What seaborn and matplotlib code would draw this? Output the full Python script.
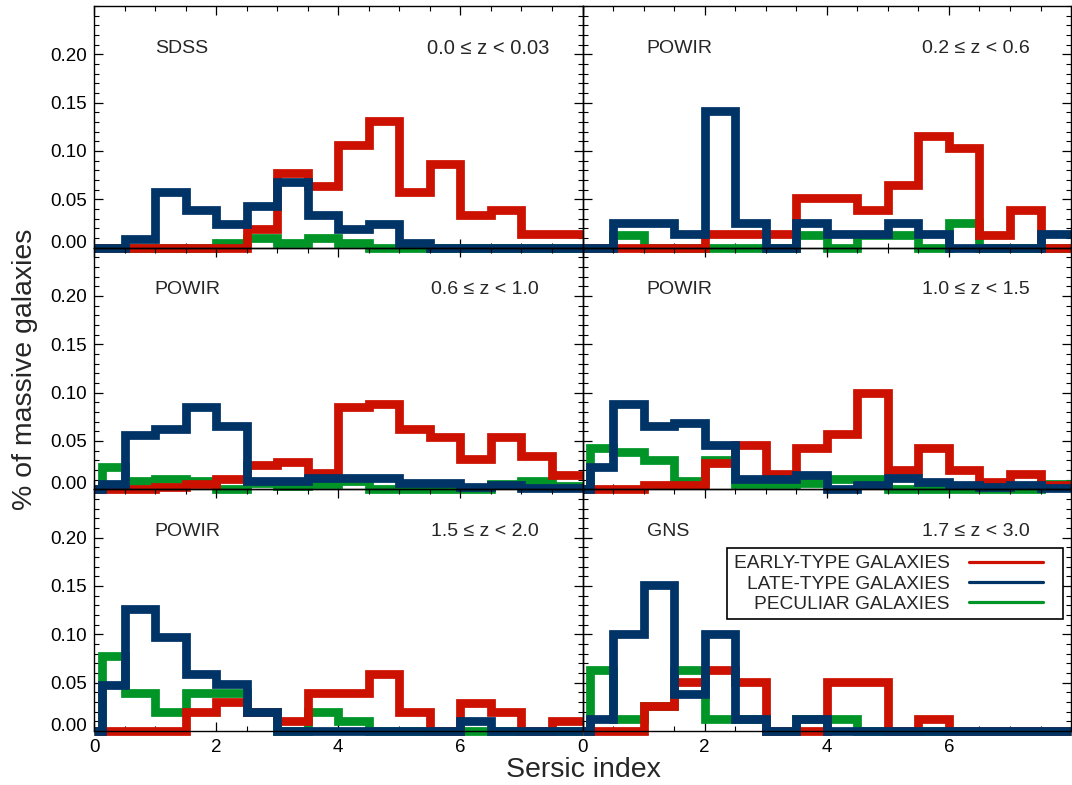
import numpy as np
import pandas as pd
import matplotlib
matplotlib.use("Agg")
import matplotlib.pyplot as plt
from matplotlib.lines import Line2D
from matplotlib.legend_handler import HandlerLine2D
from matplotlib.ticker import MultipleLocator
import seaborn as sns

# Sersic-index bin centres (bin width 0.5, n = 0 .. 8)
bin_centres = [0.25, 0.75, 1.25, 1.75, 2.25, 2.75, 3.25, 3.75,
               4.25, 4.75, 5.25, 5.75, 6.25, 6.75, 7.25, 7.75]

# Fraction of massive galaxies per bin, one panel per survey / redshift slice
sdss_early = [0, 0, 0, 0, 0, 0.019, 0.0775, 0.064, 0.106, 0.131, 0.058, 0.087, 0.034, 0.039, 0.014, 0.014]
sdss_late = [0, 0.009, 0.058, 0.039, 0.024, 0.043, 0.0675, 0.034, 0.019, 0.024, 0.005, 0, 0, 0, 0, 0]
sdss_pec = [0, 0, 0, 0, 0.005, 0.01, 0.005, 0.01, 0.005, 0, 0, 0, 0, 0, 0, 0]

powir1_early = [0, 0, 0, 0, 0.0137, 0.0137, 0.0137, 0.051, 0.051, 0.0385, 0.0647, 0.1157, 0.103, 0.0128, 0.0385, 0]
powir1_late = [0, 0.0257, 0.0257, 0.0137, 0.1416, 0.0257, 0, 0.0257, 0.0137, 0.0137, 0.0257, 0.0137, 0, 0, 0, 0.0137]
powir1_pec = [0, 0.0128, 0, 0, 0, 0, 0, 0.0128, 0, 0.0128, 0.0128, 0, 0.0257, 0, 0, 0]

powir2_early = [0, 0, 0.002, 0.005, 0.011, 0.0255, 0.028, 0.017, 0.085, 0.0883, 0.0628, 0.054, 0.0314, 0.054, 0.0349, 0.0145]
powir2_late = [0.005, 0.0567, 0.0624, 0.0852, 0.0655, 0.009, 0.009, 0.0114, 0.0114, 0.0114, 0.0066, 0.0066, 0.002, 0.004, 0.001, 0.001]
powir2_pec = [0.023, 0.0086, 0.011, 0.009, 0, 0.007, 0.003, 0.005, 0.009, 0, 0, 0, 0, 0.005, 0.009, 0.003]

powir3_early = [0, 0, 0.004, 0.004, 0.027, 0.0455, 0.016, 0.0428, 0.0576, 0.0997, 0.0197, 0.0428, 0.0197, 0.0076, 0.016, 0.004]
powir3_late = [0.023, 0.0883, 0.065, 0.0687, 0.0455, 0.011, 0.011, 0.015, 0, 0.004, 0.0117, 0.0076, 0.004, 0.002, 0.004, 0.0013]
powir3_pec = [0.0428, 0.0383, 0.0307, 0.0083, 0.0307, 0.006, 0.006, 0.007, 0.011, 0.011, 0, 0, 0, 0, 0, 0.006]

powir4_early = [0, 0, 0, 0.020, 0.030, 0.020, 0.0104, 0.039, 0.039, 0.0587, 0.020, 0, 0.029, 0.020, 0, 0.0104]
powir4_late = [0.048, 0.126, 0.0973, 0.0587, 0.049, 0.020, 0, 0, 0, 0, 0, 0, 0.0104, 0, 0, 0]
powir4_pec = [0.078, 0.039, 0.020, 0.039, 0.039, 0.020, 0, 0.020, 0.0104, 0, 0, 0, 0, 0, 0, 0]

gns_early = [0, 0, 0.0259, 0.0507, 0.0628, 0.0507, 0, 0, 0.0507, 0.0507, 0, 0.0128, 0, 0, 0, 0]
gns_late = [0.0128, 0.100, 0.151, 0.038, 0.100, 0.0128, 0, 0.0128, 0, 0, 0, 0, 0, 0, 0, 0]
gns_pec = [0.0628, 0.0128, 0.0259, 0.0628, 0.0128, 0.0128, 0, 0.0128, 0.0128, 0, 0, 0, 0, 0, 0, 0]

surveys = ["SDSS", "POWIR", "POWIR", "POWIR", "POWIR", "GNS"]
z_ranges = ["0.0 \u2264 z < 0.03", "0.2 \u2264 z < 0.6", "0.6 \u2264 z < 1.0",
            "1.0 \u2264 z < 1.5", "1.5 \u2264 z < 2.0", "1.7 \u2264 z < 3.0"]
early_sets = [sdss_early, powir1_early, powir2_early, powir3_early, powir4_early, gns_early]
late_sets = [sdss_late, powir1_late, powir2_late, powir3_late, powir4_late, gns_late]
pec_sets = [sdss_pec, powir1_pec, powir2_pec, powir3_pec, powir4_pec, gns_pec]

type_names = ["EARLY-TYPE GALAXIES", "LATE-TYPE GALAXIES", "PECULIAR GALAXIES"]
x_lo, x_hi = 0.0, 8.0

palette = {"EARLY-TYPE GALAXIES": "#CC1100",
           "LATE-TYPE GALAXIES": "#003366",
           "PECULIAR GALAXIES": "#009526"}
draw_order = ["PECULIAR GALAXIES", "EARLY-TYPE GALAXIES", "LATE-TYPE GALAXIES"]

sns.set_style("ticks")
plt.rcParams["font.family"] = ["Liberation Sans", "DejaVu Sans"]
plt.rcParams["axes.linewidth"] = 1.0

fig, axes = plt.subplots(3, 2, figsize=(10.72, 7.85), dpi=100)
fig.subplots_adjust(left=0.0877, right=0.9991, bottom=0.0688, top=0.9924,
                    wspace=0, hspace=0)


def histogram_frame(early, late, pec):
    """Long-form table of step outlines, anchored at the panel edges."""
    rows = []
    for name, vals in zip(type_names, (early, late, pec)):
        xs = [x_lo] + bin_centres + [x_hi]
        ys = [0.0] + list(vals) + [vals[-1]]
        for xv, yv in zip(xs, ys):
            rows.append({"n": xv, "frac": yv, "type": name})
    return pd.DataFrame(rows)


class ShortLineHandler(HandlerLine2D):
    """Legend line that leaves some blank space before the frame edge."""

    def __init__(self, fraction=0.84, **kw):
        super().__init__(**kw)
        self.fraction = fraction

    def get_xdata(self, legend, xdescent, ydescent, width, height, fontsize):
        xdata = np.array([-xdescent, -xdescent + width * self.fraction])
        return xdata, xdata


for i, ax in enumerate(axes.flat):
    row, col = divmod(i, 2)
    ax.set_facecolor("none")
    df = histogram_frame(early_sets[i], late_sets[i], pec_sets[i])
    sns.lineplot(data=df, x="n", y="frac", hue="type", hue_order=draw_order,
                 palette=palette, estimator=None, sort=False, legend=False,
                 drawstyle="steps-mid", linewidth=6.3, clip_on=False,
                 solid_joinstyle="miter", solid_capstyle="butt", ax=ax)

    ax.set_xlim(0, 8)
    ax.set_ylim(0, 0.25)
    ax.set_xticks([0, 2, 4, 6])
    ax.xaxis.set_minor_locator(MultipleLocator(0.5))
    ax.set_yticks([0.0, 0.05, 0.10, 0.15, 0.20])
    ax.yaxis.set_minor_locator(MultipleLocator(0.01))
    ax.set_yticklabels(["0.00", "0.05", "0.10", "0.15", "0.20"])
    ax.tick_params(which="both", direction="in", top=True, right=True,
                   bottom=True, left=True, colors="black", labelsize=13.5)
    ax.tick_params(which="major", length=6.5, width=0.9)
    ax.tick_params(which="minor", length=3.3, width=0.8)
    ax.tick_params(axis="y", pad=5)
    ax.tick_params(axis="x", pad=6)
    ax.tick_params(labelleft=(col == 0), labelbottom=(row == 2))
    ax.set_xlabel("")
    ax.set_ylabel("")
    for sp in ax.spines.values():
        sp.set_color("black")
        sp.set_linewidth(1.0)

    # keep the zero label clear of the panel below
    if col == 0:
        ticks = ax.yaxis.get_major_ticks()
        ticks[0].label1.set_verticalalignment("baseline")

    left_x = 0.1245 if col == 0 else 0.131
    ax.text(left_x, 0.826, surveys[i], transform=ax.transAxes,
            ha="left", va="center", fontsize=14)
    if i == 0:
        ax.text(0.933, 0.826, z_ranges[i], transform=ax.transAxes,
                ha="right", va="center", fontsize=14.5)
    else:
        z_x = 0.69 if col == 0 else 0.694
        ax.text(z_x, 0.826, z_ranges[i], transform=ax.transAxes,
                ha="left", va="center", fontsize=14)

handles = [Line2D([], [], color=palette[name], lw=2.3) for name in type_names]
leg = axes[2, 1].legend(handles, type_names, loc="upper right",
                        bbox_to_anchor=(0.984, 0.756), markerfirst=False,
                        frameon=True, fancybox=False, fontsize=13.75,
                        handlelength=4.6, handletextpad=1.0, borderpad=0.35,
                        labelspacing=0.15, borderaxespad=0,
                        handler_map={Line2D: ShortLineHandler(0.845)})
leg.get_frame().set_edgecolor("black")
leg.get_frame().set_linewidth(1.2)
leg.get_frame().set_alpha(1)

fig.text(0.0233, 0.529, "% of massive galaxies", rotation=90,
         ha="center", va="center", fontsize=20.5)
fig.text(0.544, 0.019, "Sersic index", ha="center", va="center", fontsize=20.5)

fig.savefig("out.png", dpi=100)
